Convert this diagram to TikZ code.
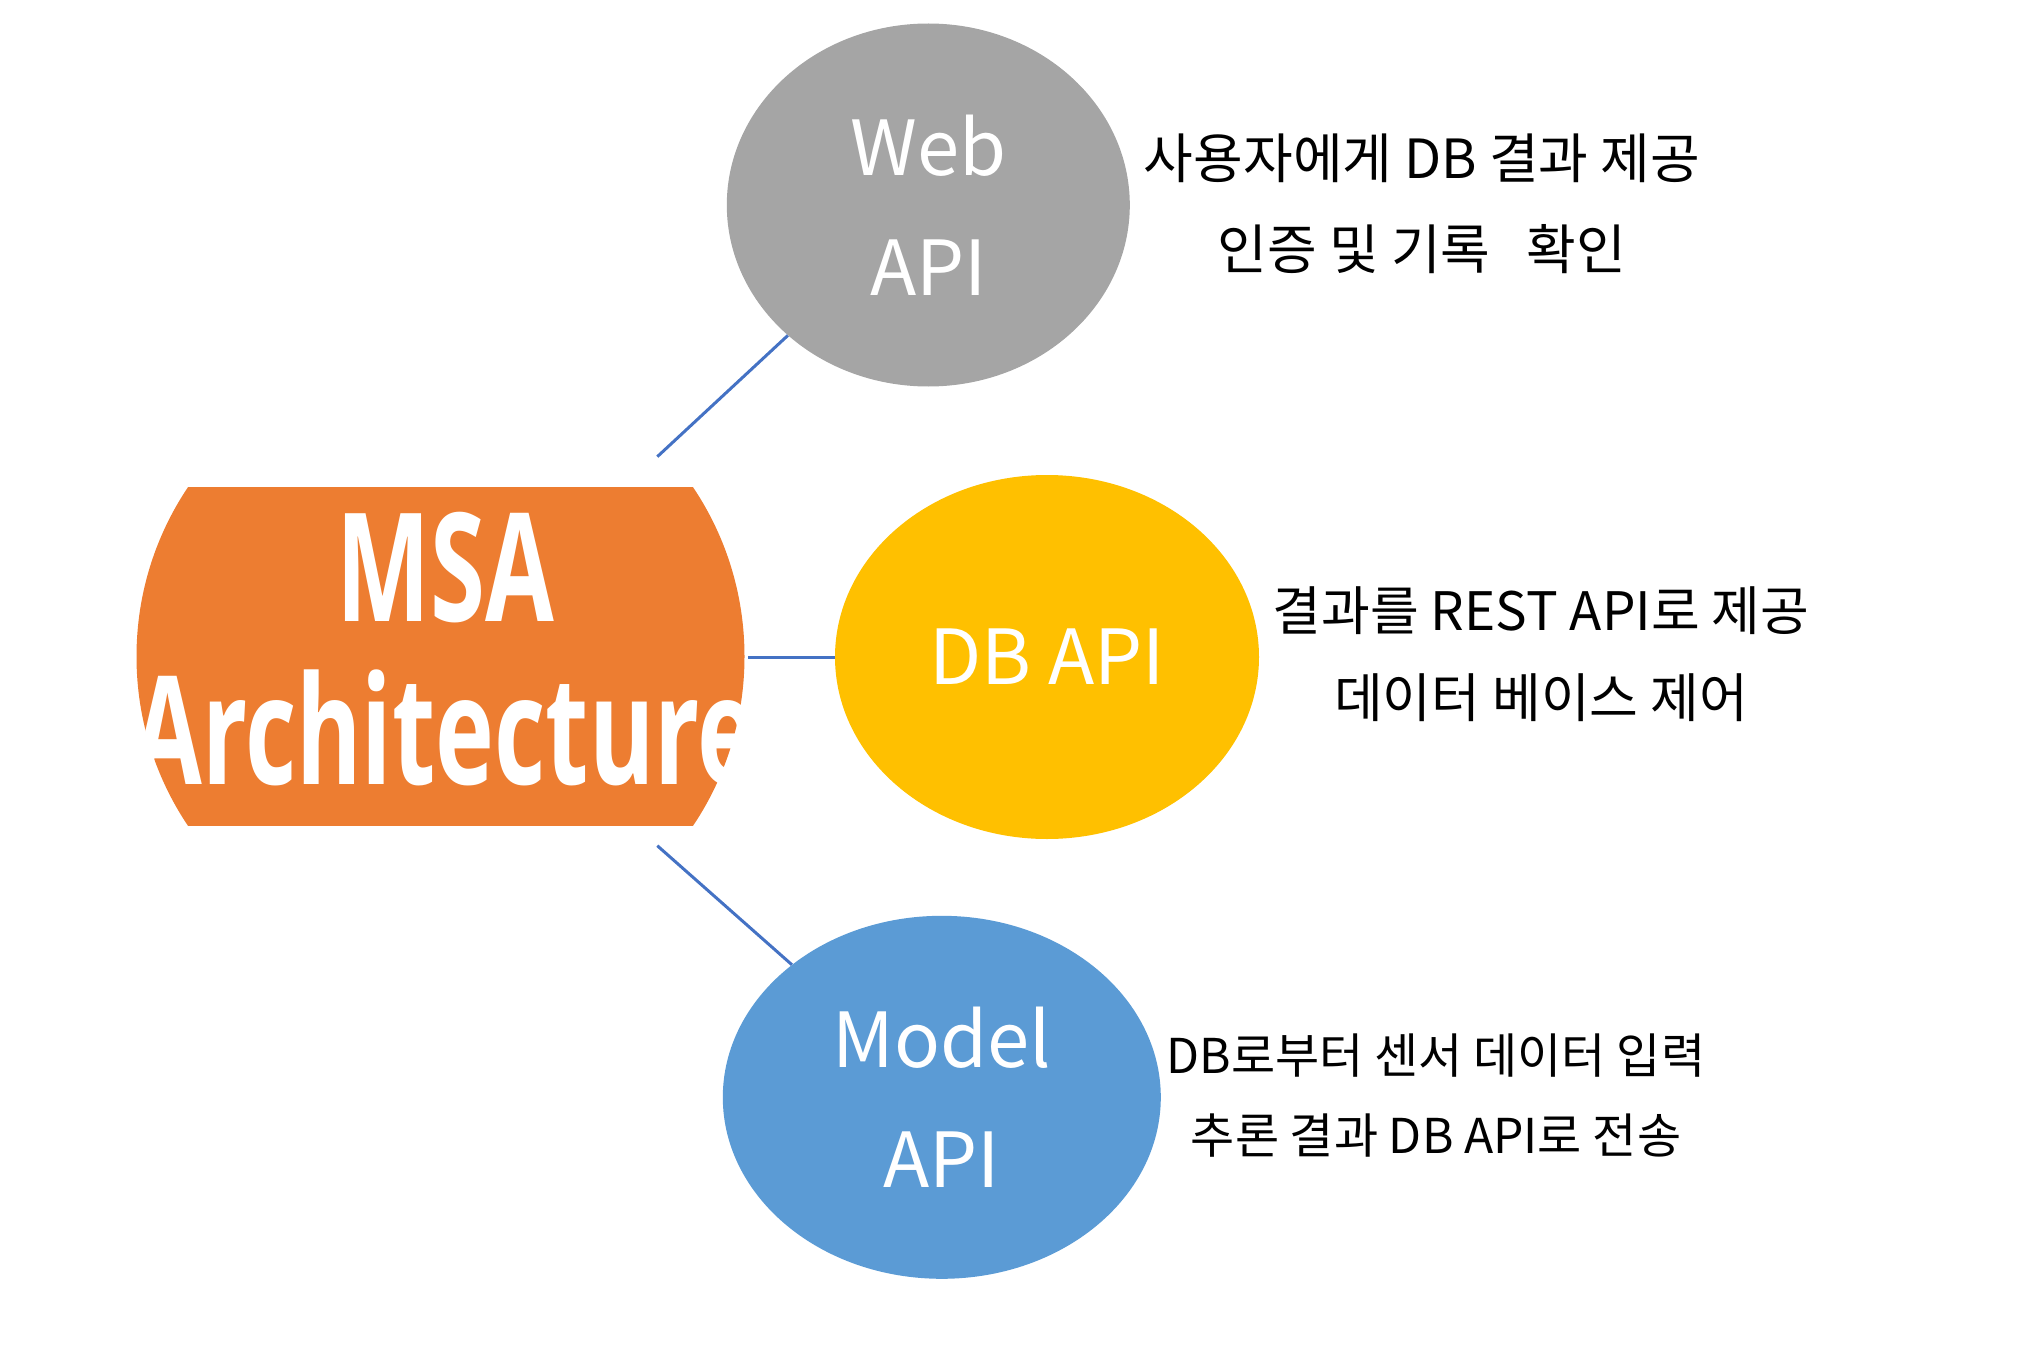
\documentclass[tikz,border=0pt]{standalone}
\usepackage{fontspec}
\setmainfont{Noto Sans CJK KR}
\newfontfamily\msafont{Open Sans}
\usetikzlibrary{shapes.geometric,positioning}

\definecolor{msaorange}{HTML}{ED7D31}
\definecolor{webgrey}{HTML}{A5A5A5}
\definecolor{dbyellow}{HTML}{FFC000}
\definecolor{modelblue}{HTML}{5B9BD5}
\definecolor{linkblue}{HTML}{4472C4}

\begin{document}
\begin{tikzpicture}[x=1pt,y=-1pt]
        \tikzstyle{bubble}=[ellipse, inner sep=0pt, text=white, align=center, font=\fontsize{76}{120}\selectfont]
        \tikzstyle{desc}=[align=center, inner sep=0pt, font=\fontsize{54}{91}\selectfont]
        \tikzstyle{link}=[draw=linkblue, line width=3pt]

        \useasboundingbox (0,0) rectangle (2038,1351);

        % MSA: circle cut flat at top and bottom
        \begin{scope}
            \clip (130,487.5) rectangle (750,825.5);
            \fill[msaorange] (440.5,656.5) circle (304);
        \end{scope}
        \node[font=\msafont\bfseries\fontsize{151}{163}\selectfont, text=white, align=center, inner sep=0pt, xscale=0.66] (msa) at (445,649) {MSA\\Architecture};
        \coordinate (msa-top) at (657.3,456.7);
        \coordinate (msa-right) at (748,657);
        \coordinate (msa-bottom) at (657.3,845.7);

        % API bubbles
        \node[bubble, fill=webgrey, minimum width=403pt, minimum height=363pt] (web) at (928.3,205) {Web\\API};
        \node[bubble, fill=dbyellow, minimum width=424pt, minimum height=364pt] (db) at (1047,657) {DB API};
        \node[bubble, fill=modelblue, minimum width=438pt, minimum height=363pt] (model) at (941.8,1097.3) {Model\\API};

        \draw[link] (msa-top) -- (web);
        \draw[link] (msa-right) -- (db);
        \draw[link] (msa-bottom) -- (model);

        % descriptions
        \node[desc] (web-desc) at (1422,203.5) {사용자에게 DB 결과 제공\\인증 및 기록 \ \ 확인};
        \node[desc, font=\fontsize{53}{87}\selectfont] (db-desc) at (1541,654) {결과를 REST API로 제공\\데이터 베이스 제어};
        \node[desc, font=\fontsize{48}{80}\selectfont] (model-desc) at (1436,1096) {DB로부터 센서 데이터 입력\\추론 결과 DB API로 전송};
\end{tikzpicture}
\end{document}
